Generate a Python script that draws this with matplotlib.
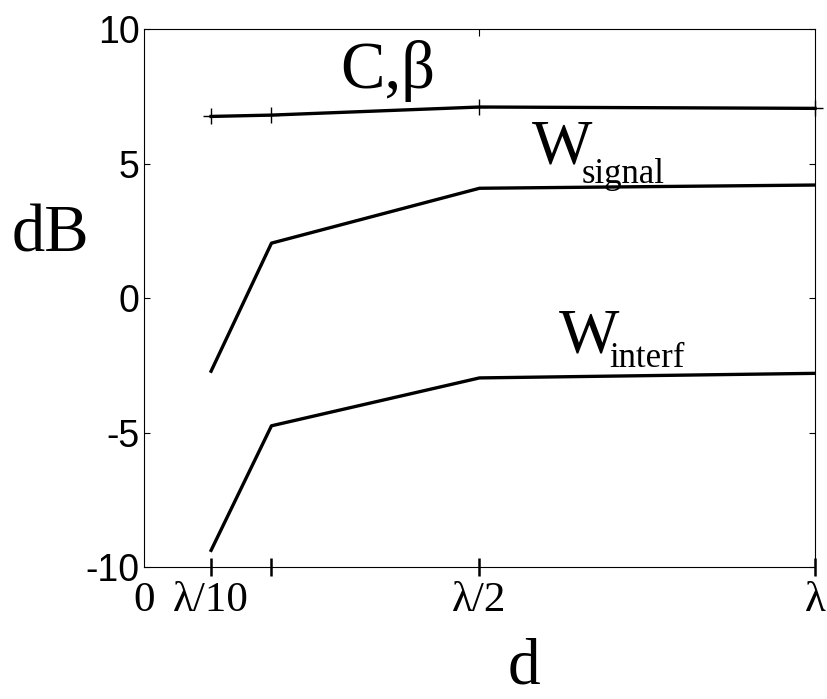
import matplotlib
matplotlib.use("Agg")
import matplotlib.pyplot as plt

plt.rcParams["axes.unicode_minus"] = False

# element spacing d, as a fraction of the wavelength
D = [0.1, 0.19, 0.5, 1.0]
C_BETA = [6.75, 6.8, 7.1, 7.05]
W_SIGNAL = [-2.72, 2.04, 4.08, 4.2]
W_INTERF = [-9.38, -4.75, -2.97, -2.8]

X_TICKS = [0, 0.1, 0.19, 0.5, 1.0]
X_LABELS = ["0", "λ/10", "", "λ/2", "λ"]
Y_TICKS = [-10, -5, 0, 5, 10]
Y_LABELS = ["-10", "-5", "0", "5", "10"]

SERIF = "Liberation Serif"
SANS = "Liberation Sans"

fig = plt.figure(figsize=(8.27, 6.99), dpi=100)
ax = fig.add_axes([0.1741, 0.1888, 0.8114, 0.7697])

ax.plot(D, C_BETA, color="black", lw=2.4, marker="+", ms=12, mew=1.0,
        clip_on=False)
ax.plot(D, W_SIGNAL, color="black", lw=2.4)
ax.plot(D, W_INTERF, color="black", lw=2.4)

ax.set_xlim(0, 1)
ax.set_ylim(-10, 10)

ax.set_xticks(X_TICKS)
ax.set_xticklabels(X_LABELS, family=SERIF, fontsize=31)
ax.tick_params(axis="x", direction="inout", length=13, width=1.8, pad=4)
ax.xaxis.get_major_ticks()[0].tick1line.set_visible(False)

ax.set_yticks(Y_TICKS)
ax.set_yticklabels(Y_LABELS, family=SANS, fontsize=27)
ax.tick_params(axis="y", direction="in", length=4, width=0.8, pad=3,
               right=True)

top = ax.secondary_xaxis("top")
top.set_xticks([0.5])
top.set_xticklabels([""])
top.tick_params(direction="in", length=5, width=0.8)
top.spines["top"].set_visible(False)

for s in ax.spines.values():
    s.set_linewidth(0.8)

# curve labels: main letter plus a smaller, lowered subscript
ax.text(0.292, 7.8, "C,β", family=SERIF, fontsize=48, va="baseline")
ax.text(0.578, 5.0, "W", family=SERIF, fontsize=46, va="baseline")
ax.text(0.652, 4.28, "signal", family=SERIF, fontsize=25, va="baseline")
ax.text(0.619, -2.04, "W", family=SERIF, fontsize=46, va="baseline")
ax.text(0.694, -2.57, "interf", family=SERIF, fontsize=25, va="baseline")

fig.text(0.0605, 0.6395, "dB", family=SERIF, fontsize=48, ha="center",
         va="baseline")
fig.text(0.634, 0.002, "d", family=SERIF, fontsize=47, ha="center",
         va="bottom")

fig.savefig("out.png")
